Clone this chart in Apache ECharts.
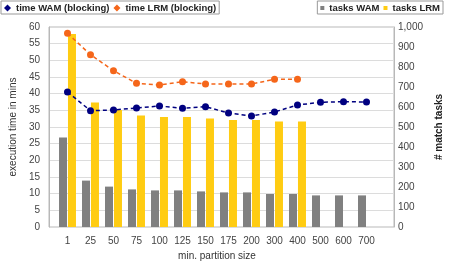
<!DOCTYPE html>
<html><head><meta charset="utf-8">
<script src="https://cdn.jsdelivr.net/npm/echarts@6/dist/echarts.min.js"></script>
<style>html,body{margin:0;padding:0;background:#fff}#c{width:456px;height:266px}</style>
</head><body><div id="c"></div>
<script>
var categories = ['1','25','50','75','100','125','150','175','200','300','400','500','600','700'];
var timeWAM = [40.5, 34.9, 35.1, 35.7, 36.3, 35.6, 36.1, 34.2, 33.3, 34.5, 36.6, 37.4, 37.6, 37.5];
var timeLRM = [58.1, 51.7, 46.9, 43.1, 42.6, 43.6, 42.9, 42.9, 42.9, 44.3, 44.3, null, null, null];
var tasksWAM = [448, 232, 202, 188, 183, 183, 178, 173, 173, 165, 165, 158, 158, 158];
var tasksLRM = [965, 622, 585, 557, 550, 550, 543, 535, 535, 527, 527, null, null, null];
var leftTicks = {min: 0, max: 60, interval: 5};
var rightTicks = {min: 0, max: 1000, interval: 100};

var chart = echarts.init(document.getElementById('c'), null, {renderer: 'canvas'});
var font = 'Liberation Sans, Arial, sans-serif';
var lab = {color: '#444', fontSize: 10, fontFamily: font};
var legText = {color: '#222', fontSize: 9.5, fontWeight: 'bold', fontFamily: font};
chart.setOption({
  animation: false,
  textStyle: {fontFamily: font},
  grid: [
    {left: 40, right: 62, top: 27, bottom: 39, show: true, borderColor: '#b8b8b8', borderWidth: 1},
    {left: 56, right: 78, top: 27, bottom: 39}
  ],
  legend: [
    {data: ['time WAM (blocking)', 'time LRM (blocking)'], left: 1, top: 1, padding: [2, 3, 1, 3],
     borderColor: '#999', borderWidth: 1, icon: 'diamond', itemWidth: 7, itemHeight: 7, itemGap: 4,
     textStyle: legText},
    {data: ['tasks WAM', 'tasks LRM'], right: 13, top: 1, padding: [2, 3, 1, 3],
     borderColor: '#999', borderWidth: 1, icon: 'rect', itemWidth: 4, itemHeight: 4, itemGap: 4,
     textStyle: legText}
  ],
  xAxis: [
    {gridIndex: 0, type: 'value', show: false, min: 0, max: 1},
    {gridIndex: 1, type: 'category', data: categories,
     axisLine: {show: false}, axisTick: {show: false},
     axisLabel: Object.assign({margin: 9, interval: 0}, lab),
     name: 'min. partition size', nameLocation: 'middle', nameGap: 24,
     nameTextStyle: {color: '#333', fontSize: 10, fontFamily: font}}
  ],
  yAxis: [
    {gridIndex: 0, type: 'value', position: 'left', min: leftTicks.min, max: leftTicks.max, interval: leftTicks.interval,
     axisLine: {show: true, lineStyle: {color: '#b8b8b8'}}, axisTick: {show: false},
     splitLine: {lineStyle: {color: '#dcdcdc'}},
     axisLabel: Object.assign({margin: 9}, lab),
     name: 'execution time in mins', nameLocation: 'middle', nameGap: 23, nameRotate: 90,
     nameTextStyle: {color: '#333', fontSize: 10, fontFamily: font}},
    {gridIndex: 0, type: 'value', position: 'right', min: rightTicks.min, max: rightTicks.max, interval: rightTicks.interval,
     axisLine: {show: true, lineStyle: {color: '#b8b8b8'}}, axisTick: {show: false},
     splitLine: {show: false},
     axisLabel: Object.assign({margin: 4, formatter: function (v) { return v.toLocaleString('en-US'); }}, lab),
     name: '# match tasks', nameLocation: 'middle', nameGap: 38, nameRotate: 90,
     nameTextStyle: {color: '#222', fontSize: 10, fontWeight: 'bold', fontFamily: font}},
    {gridIndex: 1, type: 'value', show: false, min: leftTicks.min, max: leftTicks.max, interval: leftTicks.interval, splitLine: {show: false}},
    {gridIndex: 1, type: 'value', show: false, min: rightTicks.min, max: rightTicks.max, interval: rightTicks.interval, splitLine: {show: false}}
  ],
  series: [
    {name: 'tasks WAM', type: 'bar', xAxisIndex: 1, yAxisIndex: 3, data: tasksWAM,
     barWidth: 8, barGap: '12%', itemStyle: {color: '#808080'}},
    {name: 'tasks LRM', type: 'bar', xAxisIndex: 1, yAxisIndex: 3, data: tasksLRM,
     barWidth: 8, barGap: '12%', itemStyle: {color: '#ffcc12'}},
    {name: 'time WAM (blocking)', type: 'line', xAxisIndex: 1, yAxisIndex: 2, data: timeWAM,
     symbol: 'circle', symbolSize: 7, itemStyle: {color: '#000080'},
     lineStyle: {color: '#000080', width: 1.5, type: [4, 3]}},
    {name: 'time LRM (blocking)', type: 'line', xAxisIndex: 1, yAxisIndex: 2, data: timeLRM,
     symbol: 'circle', symbolSize: 7, itemStyle: {color: '#f5661a'},
     lineStyle: {color: '#f5661a', width: 1.5, type: [4, 3]}}
  ]
});
</script></body></html>
